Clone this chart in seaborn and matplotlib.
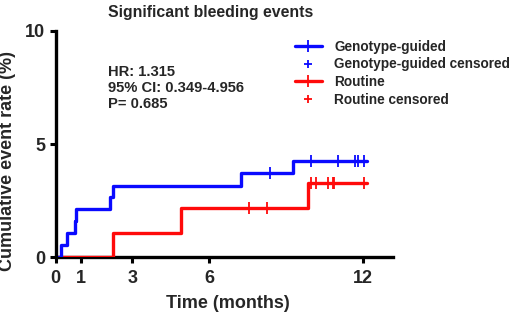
import numpy as np
import pandas as pd
import seaborn as sns
import matplotlib.pyplot as plt
from matplotlib.lines import Line2D

# step times (months) and cumulative event rate (%)
geno_t = [0, 0.23, 0.45, 0.77, 0.80, 2.12, 2.23, 7.24, 9.28, 12.16]
geno_y = [0, 0.53, 1.06, 1.58, 2.11, 2.64, 3.17, 3.72, 4.24, 4.24]
rout_t = [0, 2.25, 4.88, 9.84, 12.16]
rout_y = [0, 1.08, 2.16, 3.30, 3.30]

# censored observations
geno_cens = [8.37, 9.96, 11.04, 11.70, 11.81, 12.04]
rout_cens = [7.54, 8.27, 9.96, 10.17, 10.65, 10.82, 10.87, 12.04]

x_ticks = [0, 1, 3, 6, 12]
y_ticks = [0, 5, 10]

BLUE = '#0a0aff'
RED = '#ff0a0a'


def level_at(ts, ys, t):
    i = np.searchsorted(ts, t, side='right') - 1
    return ys[i]


df = pd.concat([
    pd.DataFrame({'t': geno_t, 'y': geno_y, 'grp': 'Genotype-guided'}),
    pd.DataFrame({'t': rout_t, 'y': rout_y, 'grp': 'Routine'}),
])
cens = pd.concat([
    pd.DataFrame({'t': geno_cens, 'y': [level_at(geno_t, geno_y, c) for c in geno_cens],
                  'grp': 'Genotype-guided'}),
    pd.DataFrame({'t': rout_cens, 'y': [level_at(rout_t, rout_y, c) for c in rout_cens],
                  'grp': 'Routine'}),
])
pal = {'Genotype-guided': BLUE, 'Routine': RED}

sns.set_style('ticks')
plt.rcParams['font.family'] = ['Liberation Sans', 'DejaVu Sans']
plt.rcParams['font.weight'] = 'bold'

fig = plt.figure(figsize=(5.10, 3.16), dpi=100)
ax = fig.add_axes([0.109, 0.186, 0.661, 0.716])

# routine drawn first so blue sits on top where they overlap at 0
for g in ['Routine', 'Genotype-guided']:
    d = df[df['grp'] == g]
    sns.lineplot(data=d, x='t', y='y', ax=ax, color=pal[g], lw=2.4,
                 drawstyle='steps-post', estimator=None, sort=False, legend=False)
    c = cens[cens['grp'] == g]
    ax.plot(c['t'], c['y'], ls='none', marker='|', ms=8, mew=1.3, color=pal[g])

ax.set_xlim(0, 13.16)
ax.set_ylim(0, 10)
ax.set_xticks(x_ticks)
ax.set_yticks(y_ticks)
ax.tick_params(width=2.2, length=4.5, labelsize=13, color='black')
ax.tick_params(axis='x', pad=5)
ax.tick_params(axis='y', pad=3)
for lab in ax.get_xticklabels() + ax.get_yticklabels():
    lab.set_fontweight('bold')
sns.despine(ax=ax)
for s in ['left', 'bottom']:
    ax.spines[s].set_linewidth(2.4)
    ax.spines[s].set_color('black')
ax.spines['bottom'].set_zorder(1)

ax.set_xlabel('Time (months)', fontsize=13, fontweight='bold')
ax.set_ylabel('Cumulative event rate (%)', fontsize=13, fontweight='bold')
ax.xaxis.set_label_coords(0.51, -0.165)
ax.yaxis.set_label_coords(-0.118, 0.426)

fig.text(0.413, 0.962, 'Significant bleeding events', ha='center', va='center',
         fontsize=11.4, fontweight='bold')

ax.text(0.155, 0.848, 'HR: 1.315\n95% CI: 0.349-4.956\nP= 0.685',
        transform=ax.transAxes, ha='left', va='top', fontsize=10.6,
        fontweight='bold', linespacing=1.18)

handles = [
    Line2D([], [], color=BLUE, lw=2.4, marker='|', ms=8, mew=1.3),
    Line2D([], [], color=BLUE, ls='none', marker='+', ms=6, mew=1.3),
    Line2D([], [], color=RED, lw=2.4, marker='|', ms=8, mew=1.3),
    Line2D([], [], color=RED, ls='none', marker='+', ms=6, mew=1.3),
]
labels = ['Genotype-guided', 'Genotype-guided censored', 'Routine', 'Routine censored']
leg = fig.legend(handles, labels, loc='upper left', bbox_to_anchor=(0.578, 0.875),
                 frameon=False, fontsize=9.8, handlelength=2.0, handletextpad=0.9,
                 labelspacing=0.28, borderpad=0, borderaxespad=0, numpoints=1)
for t in leg.get_texts():
    t.set_fontweight('bold')

fig.savefig('out.png', dpi=100)
